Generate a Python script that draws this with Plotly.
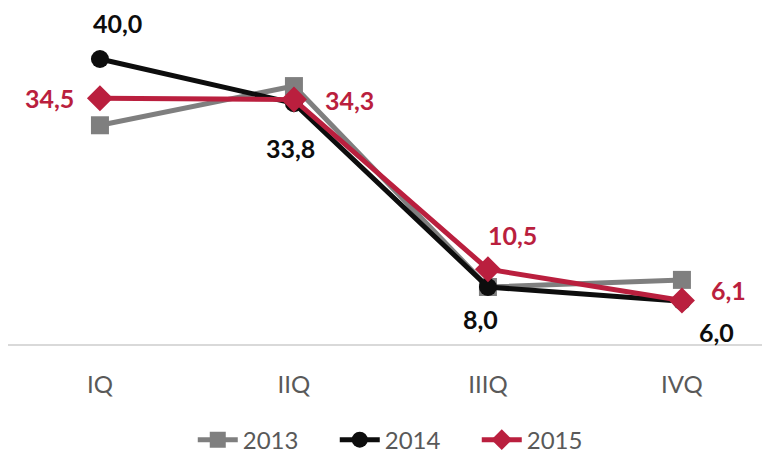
import plotly.graph_objects as go

categories = ["IQ", "IIQ", "IIIQ", "IVQ"]
s2013 = [30.7, 36.2, 8.0, 9.0]
s2014 = [40.0, 33.8, 8.0, 6.0]
s2015 = [34.5, 34.3, 10.5, 6.1]
labels2014 = ["40,0", "33,8", "8,0", "6,0"]
labels2015 = ["34,5", "34,3", "10,5", "6,1"]
# label offsets in pixels (styling only)
off2014 = [(18, -36), (-3, 45), (-7, 32), (35, 31)]
off2015 = [(-50, 0), (56, 0), (25, -34), (47, -11)]

GRAY = "#7f7f7f"
BLACK = "#0d0d0d"
RED = "#BA1F3E"
FONT = "Lato, Open Sans, sans-serif"

fig = go.Figure()
fig.add_trace(go.Scatter(
    x=categories, y=s2013, name="2013", mode="lines+markers",
    line=dict(color=GRAY, width=5),
    marker=dict(symbol="square", size=18, color=GRAY),
))
fig.add_trace(go.Scatter(
    x=categories, y=s2014, name="2014", mode="lines+markers",
    line=dict(color=BLACK, width=5),
    marker=dict(symbol="circle", size=18, color=BLACK),
))
fig.add_trace(go.Scatter(
    x=categories, y=s2015, name="2015", mode="lines+markers",
    line=dict(color=RED, width=5),
    marker=dict(symbol="diamond", size=20, color=RED),
))

annotations = []
for cat, val, lab, (dx, dy) in zip(categories, s2014, labels2014, off2014):
    annotations.append(dict(x=cat, y=val, text=lab, showarrow=False,
                            xshift=dx, yshift=-dy,
                            font=dict(family=FONT, size=25, color=BLACK, weight="bold")))
for cat, val, lab, (dx, dy) in zip(categories, s2015, labels2015, off2015):
    annotations.append(dict(x=cat, y=val, text=lab, showarrow=False,
                            xshift=dx, yshift=-dy,
                            font=dict(family=FONT, size=25, color=RED, weight="bold")))

fig.update_layout(
    width=762, height=445,
    margin=dict(l=0, r=0, t=0, b=109),
    paper_bgcolor="white", plot_bgcolor="white",
    font=dict(family=FONT, size=24, color="#595959"),
    showlegend=True,
    annotations=annotations,
    legend=dict(orientation="h", x=0.522, xanchor="center", xref="container",
                y=0.029, yanchor="middle", yref="container",
                font=dict(family=FONT, size=24, color="#595959"),
                itemwidth=40, entrywidth=87, tracegroupgap=0),
)
fig.update_xaxes(
    type="category", range=[-0.474, 3.454],
    showgrid=False, zeroline=False,
    showline=True, linecolor="#d9d9d9", linewidth=2,
    ticks="", tickfont=dict(family=FONT, size=24, color="#595959"),
    ticklabelstandoff=18,
)
fig.update_yaxes(
    range=[0, 47.16], showgrid=False, zeroline=False, showticklabels=False,
    showline=False,
)

fig.write_html("out.html")
